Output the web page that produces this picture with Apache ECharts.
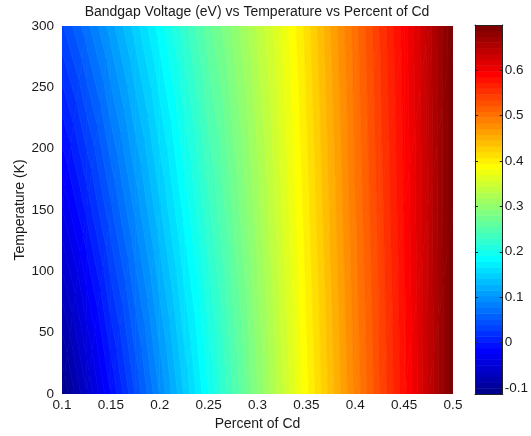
<!DOCTYPE html>
<html>
<head>
<meta charset="utf-8">
<script src="https://cdn.jsdelivr.net/npm/echarts@6/dist/echarts.min.js"></script>
<style>
  html, body { margin: 0; padding: 0; background: #fff; }
  #chart { width: 531px; height: 436px; }
</style>
</head>
<body>
<div id="chart"></div>
<script>
// Cd mole fraction sampled along the horizontal axis
const cdFraction = [0.1, 0.125, 0.15, 0.175, 0.2, 0.225, 0.25, 0.275, 0.3, 0.325, 0.35, 0.375, 0.4, 0.425, 0.45, 0.475, 0.5];
// Temperatures (K) of the sampled rows
const temperatureK = [0, 150, 300];
// Bandgap (eV) per row, one value per Cd fraction
const gap0K   = [-0.113, -0.063, -0.011, 0.040, 0.091, 0.142, 0.192, 0.242, 0.292, 0.341, 0.390, 0.438, 0.486, 0.533, 0.580, 0.636, 0.699];
const gap150K = [-0.038, 0.004, 0.049, 0.093, 0.138, 0.183, 0.227, 0.269, 0.312, 0.356, 0.401, 0.448, 0.495, 0.540, 0.585, 0.638, 0.699];
const gap300K = [0.037, 0.072, 0.109, 0.147, 0.185, 0.224, 0.263, 0.296, 0.333, 0.370, 0.412, 0.458, 0.503, 0.547, 0.591, 0.641, 0.699];
// Colorbar tick values
const colorbarTicks = [-0.1, 0, 0.1, 0.2, 0.3, 0.4, 0.5, 0.6];

const gapRows = [gap0K, gap150K, gap300K];

// 64-entry jet colormap
const NLEV = 64;
function jetMap(m) {
  const n = Math.ceil(m / 4);
  const u = [];
  for (let i = 1; i <= n; i++) u.push(i / n);
  for (let i = 1; i < n; i++) u.push(1);
  for (let i = n; i >= 1; i--) u.push(i / n);
  const off = Math.ceil(n / 2) - (m % 4 === 1 ? 1 : 0);
  const J = Array.from({ length: m }, () => [0, 0, 0]);
  for (let k = 0; k < u.length; k++) {
    const g = off + k + 1;        // 1-based index
    const r = g + n, b = g - n;
    if (g >= 1 && g <= m) J[g - 1][1] = u[k];
    if (r >= 1 && r <= m) J[r - 1][0] = u[k];
    if (b >= 1 && b <= m) J[b - 1][2] = u[k];
  }
  return J.map(c => 'rgb(' + c.map(x => Math.round(x * 255)).join(',') + ')');
}
const jet = jetMap(NLEV);

const allGaps = [].concat(...gapRows);
const cmin = Math.min(...allGaps);
const cmax = Math.max(...allGaps);
const levelEdges = [];
for (let k = 0; k <= NLEV; k++) levelEdges.push(cmin + k * (cmax - cmin) / NLEV);
function levelOf(v) {
  return Math.min(NLEV - 1, Math.max(0, Math.floor((v - cmin) / (cmax - cmin) * NLEV)));
}

// Cells of the sampled grid: [x0, T0, x1, T1, v00, v10, v01, v11]
const cells = [];
for (let j = 0; j < temperatureK.length - 1; j++) {
  for (let i = 0; i < cdFraction.length - 1; i++) {
    cells.push([cdFraction[i], temperatureK[j], cdFraction[i + 1], temperatureK[j + 1],
      gapRows[j][i], gapRows[j][i + 1], gapRows[j + 1][i], gapRows[j + 1][i + 1]]);
  }
}

// Keep the part of a polygon on one side of a value threshold
function clipByValue(poly, thr, sign) {
  const out = [];
  const n = poly.length;
  for (let i = 0; i < n; i++) {
    const a = poly[i], b = poly[(i + 1) % n];
    const ia = sign * (a[2] - thr) >= 0;
    const ib = sign * (b[2] - thr) >= 0;
    if (ia) out.push(a);
    if (ia !== ib) {
      const t = (thr - a[2]) / (b[2] - a[2]);
      out.push([a[0] + t * (b[0] - a[0]), a[1] + t * (b[1] - a[1]), thr]);
    }
  }
  return out;
}

function renderCell(params, api) {
  const idx = [[0, 1, 4], [2, 1, 5], [2, 3, 7], [0, 3, 6]];
  const P = idx.map(c => {
    const p = api.coord([api.value(c[0]), api.value(c[1])]);
    return [p[0], p[1], api.value(c[2])];
  });
  const tris = [[P[0], P[1], P[2]], [P[0], P[2], P[3]]];
  const children = [];
  tris.forEach(tri => {
    const vs = tri.map(p => p[2]);
    const kLo = levelOf(Math.min(...vs)), kHi = levelOf(Math.max(...vs));
    for (let k = kLo; k <= kHi; k++) {
      let poly = tri;
      if (k > 0) poly = clipByValue(poly, levelEdges[k], 1);
      if (k < NLEV - 1 && poly.length) poly = clipByValue(poly, levelEdges[k + 1], -1);
      if (poly.length >= 3) {
        children.push({
          type: 'polygon',
          shape: { points: poly.map(p => [p[0], p[1]]) },
          style: { fill: jet[k], stroke: jet[k], lineWidth: 0.7 }
        });
      }
    }
  });
  return { type: 'group', children };
}

function renderBand(params, api) {
  const k = api.value(0);
  const p0 = api.coord([0, levelEdges[k]]);
  const p1 = api.coord([1, levelEdges[k + 1]]);
  return {
    type: 'rect',
    shape: { x: p0[0], y: p1[1], width: p1[0] - p0[0], height: p0[1] - p1[1] + 0.5 },
    style: { fill: jet[k] }
  };
}

const FONT = 'Liberation Sans, Arial, sans-serif';
const TXT = '#1a1a1a';
const TICK_FS = 13.5;
const NAME_FS = 14;

const chart = echarts.init(document.getElementById('chart'), null, { renderer: 'canvas' });
chart.setOption({
  animation: false,
  backgroundColor: '#fff',
  textStyle: { fontFamily: FONT },
  graphic: [{
    type: 'text', x: 257, y: 5,
    style: { text: 'Bandgap Voltage (eV) vs Temperature vs Percent of Cd', textAlign: 'center',
      fontSize: NAME_FS, fontFamily: FONT, fill: TXT }
  }],
  grid: [
    { left: 62, right: 78, top: 26, bottom: 42 },
    { left: 475, right: 27.5, top: 25, bottom: 42 }
  ],
  xAxis: [
    {
      gridIndex: 0, type: 'value', min: 0.1, max: 0.5, interval: 0.05,
      name: 'Percent of Cd', nameLocation: 'middle', nameGap: 23, nameMoveOverlap: false,
      nameTextStyle: { fontSize: NAME_FS, color: TXT, fontFamily: FONT },
      axisLine: { show: false }, axisTick: { show: false }, splitLine: { show: false },
      axisLabel: { fontSize: TICK_FS, color: TXT, margin: 4, fontFamily: FONT }
    },
    {
      gridIndex: 1, type: 'value', min: 0, max: 1, position: 'bottom', z: 5,
      axisLine: { show: true, onZero: false, lineStyle: { color: '#222', width: 1 } },
      axisTick: { show: false }, axisLabel: { show: false }, splitLine: { show: false }
    },
    {
      gridIndex: 1, type: 'value', min: 0, max: 1, position: 'top', z: 5,
      axisLine: { show: true, onZero: false, lineStyle: { color: '#222', width: 1 } },
      axisTick: { show: false }, axisLabel: { show: false }, splitLine: { show: false }
    }
  ],
  yAxis: [
    {
      gridIndex: 0, type: 'value', min: 0, max: 300, interval: 50,
      name: 'Temperature (K)', nameLocation: 'middle', nameGap: 35, nameRotate: 90, nameMoveOverlap: false,
      nameTextStyle: { fontSize: NAME_FS, color: TXT, fontFamily: FONT },
      axisLine: { show: false }, axisTick: { show: false }, splitLine: { show: false },
      axisLabel: { fontSize: TICK_FS, color: TXT, margin: 8, fontFamily: FONT }
    },
    {
      gridIndex: 1, type: 'value', min: cmin, max: cmax, position: 'right', z: 5,
      axisLine: { show: true, onZero: false, lineStyle: { color: '#222', width: 1 } },
      axisTick: { show: true, inside: true, length: 3, customValues: colorbarTicks, lineStyle: { color: '#222' } },
      axisLabel: { show: true, customValues: colorbarTicks, fontSize: TICK_FS, color: TXT, margin: 2,
        fontFamily: FONT, formatter: v => String(Math.round(v * 10) / 10) },
      splitLine: { show: false }
    },
    {
      gridIndex: 1, type: 'value', min: cmin, max: cmax, position: 'left', z: 5,
      axisLine: { show: true, onZero: false, lineStyle: { color: '#222', width: 1 } },
      axisTick: { show: true, inside: true, length: 3, customValues: colorbarTicks, lineStyle: { color: '#222' } },
      axisLabel: { show: false }, splitLine: { show: false }
    }
  ],
  series: [
    {
      type: 'custom', xAxisIndex: 0, yAxisIndex: 0, clip: true,
      renderItem: renderCell,
      encode: { x: [0, 2], y: [1, 3] },
      data: cells, silent: true
    },
    {
      type: 'custom', xAxisIndex: 1, yAxisIndex: 1, clip: true,
      renderItem: renderBand,
      encode: { y: 0 },
      data: jet.map((c, k) => [k]), silent: true
    }
  ]
});
</script>
</body>
</html>
